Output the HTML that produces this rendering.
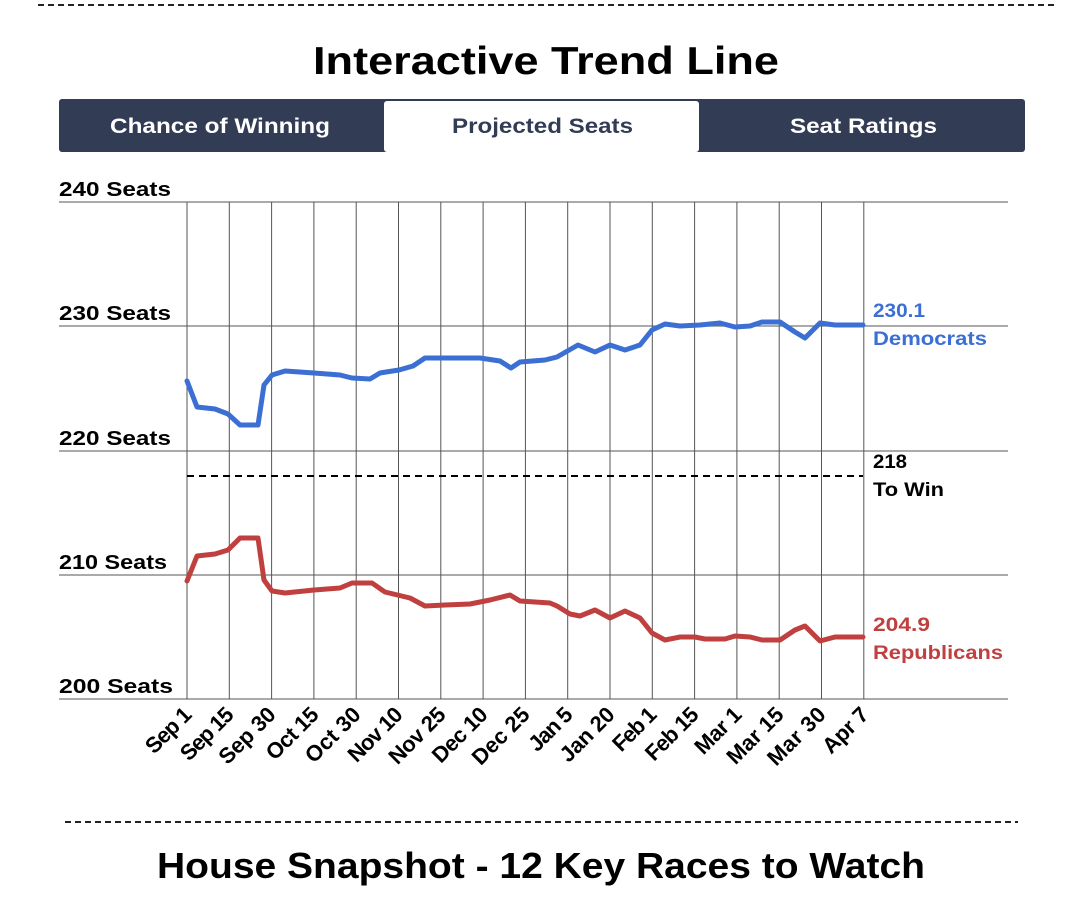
<!DOCTYPE html>
<html><head><meta charset="utf-8"><style>
body{margin:0;background:#fff;width:1081px;height:899px;overflow:hidden;font-family:"Liberation Sans",sans-serif}
</style></head><body>
<svg width="1081" height="899" xmlns="http://www.w3.org/2000/svg" font-family="Liberation Sans, sans-serif" font-weight="bold">
<line x1="38" y1="5" x2="1057" y2="5" stroke="#222" stroke-width="2" stroke-dasharray="6,4"/>
<text x="313" y="74" font-size="39" fill="#000" textLength="466" lengthAdjust="spacingAndGlyphs">Interactive  Trend Line</text>
<rect x="59" y="99" width="966" height="53" rx="3" fill="#323c55"/>
<rect x="384" y="101" width="315" height="51" rx="3" fill="#fff"/>
<text x="110" y="133" font-size="21" fill="#fff" textLength="220" lengthAdjust="spacingAndGlyphs">Chance of Winning</text>
<text x="452" y="133" font-size="21" fill="#323c55" textLength="181" lengthAdjust="spacingAndGlyphs">Projected Seats</text>
<text x="790" y="133" font-size="21" fill="#fff" textLength="147" lengthAdjust="spacingAndGlyphs">Seat Ratings</text>
<g stroke="#777" stroke-width="1.2">
<line x1="59" y1="202" x2="1008" y2="202"/><line x1="59" y1="326" x2="1008" y2="326"/>
<line x1="59" y1="451" x2="1008" y2="451"/><line x1="59" y1="575" x2="1008" y2="575"/>
<line x1="59" y1="699" x2="1008" y2="699"/>
</g>
<g stroke="#555" stroke-width="1">
<line x1="187" y1="202" x2="187" y2="699"/><line x1="229.3" y1="202" x2="229.3" y2="699"/><line x1="271.6" y1="202" x2="271.6" y2="699"/><line x1="313.9" y1="202" x2="313.9" y2="699"/><line x1="356.2" y1="202" x2="356.2" y2="699"/><line x1="398.5" y1="202" x2="398.5" y2="699"/><line x1="440.8" y1="202" x2="440.8" y2="699"/><line x1="483.1" y1="202" x2="483.1" y2="699"/><line x1="525.4" y1="202" x2="525.4" y2="699"/><line x1="567.7" y1="202" x2="567.7" y2="699"/><line x1="610" y1="202" x2="610" y2="699"/><line x1="652.3" y1="202" x2="652.3" y2="699"/><line x1="694.6" y1="202" x2="694.6" y2="699"/><line x1="736.9" y1="202" x2="736.9" y2="699"/><line x1="779.2" y1="202" x2="779.2" y2="699"/><line x1="821.5" y1="202" x2="821.5" y2="699"/><line x1="863.8" y1="202" x2="863.8" y2="699"/>
</g>
<g font-size="20" fill="#000">
<text x="59" y="196" textLength="112" lengthAdjust="spacingAndGlyphs">240 Seats</text><text x="59" y="320" textLength="112" lengthAdjust="spacingAndGlyphs">230 Seats</text><text x="59" y="445" textLength="112" lengthAdjust="spacingAndGlyphs">220 Seats</text><text x="59" y="569" textLength="108" lengthAdjust="spacingAndGlyphs">210 Seats</text><text x="59" y="693" textLength="114" lengthAdjust="spacingAndGlyphs">200 Seats</text>
</g>
<line x1="187" y1="476" x2="863" y2="476" stroke="#000" stroke-width="2" stroke-dasharray="7,5"/>
<text x="873" y="468" font-size="19" fill="#000" textLength="34" lengthAdjust="spacingAndGlyphs">218</text>
<text x="873" y="496" font-size="19" fill="#000" textLength="71" lengthAdjust="spacingAndGlyphs">To Win</text>
<polyline fill="none" stroke="#3b6fd4" stroke-width="5" stroke-linejoin="round" stroke-linecap="round" points="187,381 197,407 215,409 228,414 240,425 258,425 264,385 272,375 285,371 314,373 340,375 352,378 370,379 380,373 399,370 413,366 425,358 480,358 500,361 511,368 520,362 545,360 557,357 578,345 595,352 610,345 625,350 640,345 652,330 665,324 680,326 700,325 720,323 735,327 750,326 762,322 780,322 795,332 805,338 820,323 835,325 863,325"/>
<polyline fill="none" stroke="#c0403f" stroke-width="5" stroke-linejoin="round" stroke-linecap="round" points="187,581 197,556 215,554 228,550 240,538 258,538 264,580 272,591 285,593 314,590 340,588 352,583 372,583 385,592 410,598 425,606 445,605 470,604 490,600 510,595 520,601 550,603 557,606 570,614 580,616 595,610 610,618 625,611 640,618 652,633 665,640 680,637 695,637 705,639 725,639 735,636 750,637 762,640 780,640 795,630 805,626 820,641 835,637 863,637"/>
<g font-size="19" fill="#3b6fd4"><text x="873" y="317" textLength="52" lengthAdjust="spacingAndGlyphs">230.1</text><text x="873" y="345" textLength="114" lengthAdjust="spacingAndGlyphs">Democrats</text></g>
<g font-size="19" fill="#c0403f"><text x="873" y="631" textLength="57" lengthAdjust="spacingAndGlyphs">204.9</text><text x="873" y="659" textLength="130" lengthAdjust="spacingAndGlyphs">Republicans</text></g>
<g font-size="22" fill="#000" text-anchor="end" lengthAdjust="spacingAndGlyphs">
<text transform="translate(193,716) rotate(-45)" textLength="55">Sep 1</text>
<text transform="translate(235,716) rotate(-45)" textLength="65">Sep 15</text>
<text transform="translate(277,716) rotate(-45)" textLength="70">Sep 30</text>
<text transform="translate(320,716) rotate(-45)" textLength="64">Oct 15</text>
<text transform="translate(362,716) rotate(-45)" textLength="68">Oct 30</text>
<text transform="translate(404,716) rotate(-45)" textLength="67">Nov 10</text>
<text transform="translate(447,716) rotate(-45)" textLength="70">Nov 25</text>
<text transform="translate(489,716) rotate(-45)" textLength="68">Dec 10</text>
<text transform="translate(531,716) rotate(-45)" textLength="71">Dec 25</text>
<text transform="translate(574,716) rotate(-45)" textLength="52">Jan 5</text>
<text transform="translate(616,716) rotate(-45)" textLength="67">Jan 20</text>
<text transform="translate(658,716) rotate(-45)" textLength="52">Feb 1</text>
<text transform="translate(700,716) rotate(-45)" textLength="65">Feb 15</text>
<text transform="translate(743,716) rotate(-45)" textLength="56">Mar 1</text>
<text transform="translate(785,716) rotate(-45)" textLength="70">Mar 15</text>
<text transform="translate(827,716) rotate(-45)" textLength="72">Mar 30</text>
<text transform="translate(870,716) rotate(-45)" textLength="55">Apr 7</text>
</g>
<line x1="65" y1="822" x2="1018" y2="822" stroke="#222" stroke-width="2" stroke-dasharray="6,4"/>
<text x="157" y="878" font-size="36" fill="#000" textLength="768" lengthAdjust="spacingAndGlyphs">House Snapshot - 12 Key Races to Watch</text>
</svg>
</body></html>
